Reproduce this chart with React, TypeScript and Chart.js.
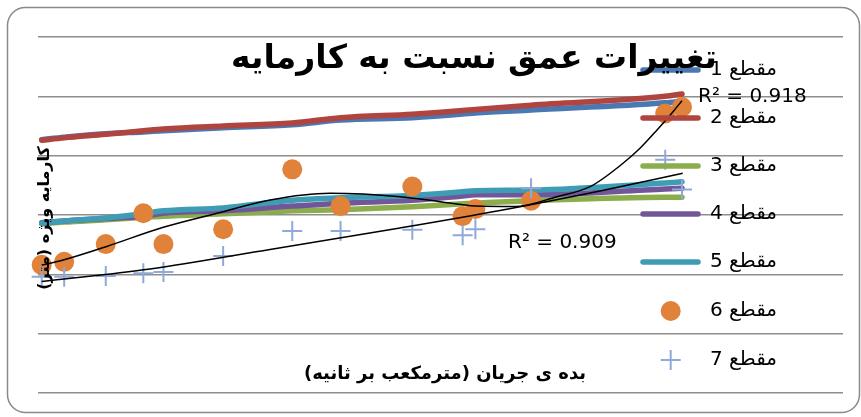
import React, { useEffect, useRef } from "react";
import { Chart, registerables } from "chart.js";

Chart.register(...registerables);

// ---- Texts ----
const titleText = "تغییرات عمق نسبت به کارمایه";
const xAxisTitle = "بده ی جریان (مترمکعب بر ثانیه)";
const yAxisTitle = "کارمایه ویژه (متر)";
const seriesLabels = ["مقطع 1", "مقطع 2", "مقطع 3", "مقطع 4", "مقطع 5", "مقطع 6", "مقطع 7"];
const rSquaredLabels = ["R² = 0.918", "R² = 0.909"];

// ---- Data ----
const discharge = [0.055, 0.39, 1.01, 1.57, 1.87, 2.76, 3.79, 4.51, 5.58, 6.33, 6.52, 7.35, 9.35, 9.6];
const section1 = [4.27, 4.31, 4.37, 4.4, 4.42, 4.47, 4.52, 4.6, 4.64, 4.7, 4.72, 4.77, 4.89, 4.92];
const section2 = [4.26, 4.3, 4.36, 4.42, 4.45, 4.5, 4.55, 4.64, 4.7, 4.76, 4.78, 4.85, 5.0, 5.04];
const section3 = [2.85, 2.88, 2.92, 2.96, 2.98, 3.02, 3.07, 3.09, 3.14, 3.19, 3.2, 3.24, 3.3, 3.3];
const section4 = [2.87, 2.9, 2.94, 2.98, 3.03, 3.07, 3.15, 3.2, 3.25, 3.32, 3.34, 3.34, 3.44, 3.45];
const section5 = [2.86, 2.9, 2.95, 3.02, 3.07, 3.12, 3.25, 3.29, 3.33, 3.39, 3.41, 3.42, 3.54, 3.56];
const section6 = [2.16, 2.21, 2.51, 3.03, 2.51, 2.76, 3.77, 3.15, 3.48, 2.98, 3.1, 3.24, 4.71, 4.82];
const section7 = [1.96, 1.96, 1.97, 2.02, 2.04, 2.31, 2.73, 2.73, 2.75, 2.66, 2.76, 3.45, 3.93, 3.43];

// trendline of مقطع 6 (polynomial)
const trend6X = [0.055, 0.377, 1.014, 1.868, 2.762, 3.459, 4.353, 5.397, 5.993, 6.515, 7.111, 7.737, 8.229, 8.721, 8.974, 9.228, 9.466, 9.6];
const trend6Y = [2.157, 2.242, 2.466, 2.793, 3.056, 3.253, 3.366, 3.309, 3.224, 3.152, 3.144, 3.309, 3.477, 3.872, 4.124, 4.433, 4.741, 4.927];
// trendline of مقطع 7
const trend7X = [0.055, 1.67, 3.459, 5.396, 6.887, 8.378, 9.611];
const trend7Y = [1.879, 2.09, 2.419, 2.781, 3.076, 3.405, 3.703];

const yMin = 0;
const yMax = 6;
const yStep = 1;
const xMin = 0;
const xMax = 12;

const lineColors = ["#4A78B2", "#B0443F", "#8CAD4B", "#71579A", "#3E9CB5"];
const dotColor = "#E0823A";
const plusColor = "#8FA9D9";

const overlayPlugin = {
  id: "overlay",
  afterDraw(chart: any) {
    const ctx = chart.ctx as CanvasRenderingContext2D;
    ctx.save();

    // legend (drawn inside the plot, as in the original)
    const legX1 = 643;
    const legX2 = 698;
    const legMid = 670.7;
    const legTextRight = 777;
    const legY = [70, 118, 166, 214, 262, 311, 360];
    for (let i = 0; i < 5; i++) {
      ctx.beginPath();
      ctx.strokeStyle = lineColors[i];
      ctx.lineWidth = 5.5;
      ctx.lineCap = "round";
      ctx.moveTo(legX1, legY[i]);
      ctx.lineTo(legX2, legY[i]);
      ctx.stroke();
    }
    ctx.beginPath();
    ctx.fillStyle = dotColor;
    ctx.arc(legMid, legY[5], 10, 0, Math.PI * 2);
    ctx.fill();
    ctx.beginPath();
    ctx.strokeStyle = plusColor;
    ctx.lineWidth = 2;
    ctx.lineCap = "butt";
    ctx.moveTo(legMid - 10, legY[6]);
    ctx.lineTo(legMid + 10, legY[6]);
    ctx.moveTo(legMid, legY[6] - 10);
    ctx.lineTo(legMid, legY[6] + 10);
    ctx.stroke();

    ctx.fillStyle = "#000";
    ctx.font = '20px "DejaVu Sans"';
    ctx.textBaseline = "middle";
    (ctx as any).direction = "rtl";
    ctx.textAlign = "right";
    seriesLabels.forEach((lab, i) => ctx.fillText(lab, legTextRight, legY[i]));

    // R² labels
    (ctx as any).direction = "ltr";
    ctx.textAlign = "left";
    ctx.fillText(rSquaredLabels[0], 698, 97);
    ctx.fillText(rSquaredLabels[1], 508, 243);

    // axis titles
    (ctx as any).direction = "rtl";
    ctx.textAlign = "center";
    ctx.font = 'bold 18px "DejaVu Sans"';
    ctx.fillText(xAxisTitle, 445, 374);
    ctx.save();
    ctx.translate(45, 218);
    ctx.rotate(-Math.PI / 2);
    ctx.font = 'bold 16px "DejaVu Sans"';
    ctx.fillText(yAxisTitle, 0, 0);
    ctx.restore();

    // chart title
    ctx.font = 'bold 33px "DejaVu Sans"';
    ctx.fillText(titleText, 474, 59);

    // outer rounded border
    ctx.beginPath();
    ctx.strokeStyle = "#8a8a8a";
    ctx.lineWidth = 1.5;
    (ctx as any).roundRect(7.5, 7.5, 852, 405, 18);
    ctx.stroke();
    ctx.restore();
  },
};

export default function App() {
  const ref = useRef<HTMLCanvasElement | null>(null);
  useEffect(() => {
    if (!ref.current) return;
    const lineSeries = [section1, section2, section3, section4, section5];
    const datasets: any[] = [];
    lineSeries.forEach((vals, i) => {
      datasets.push({
        label: seriesLabels[i],
        data: discharge.map((x, k) => ({ x, y: vals[k] })),
        showLine: true,
        borderColor: lineColors[i],
        backgroundColor: lineColors[i],
        borderWidth: 5.5,
        borderCapStyle: "round",
        cubicInterpolationMode: "monotone",
        pointRadius: 0,
        clip: false,
        order: 10 - i,
      });
    });
    datasets.push({
      label: seriesLabels[5],
      data: discharge.map((x, k) => ({ x, y: section6[k] })),
      showLine: false,
      pointStyle: "circle",
      pointRadius: 10,
      backgroundColor: dotColor,
      borderColor: dotColor,
      borderWidth: 0,
      clip: false,
      order: 4,
    });
    datasets.push({
      label: seriesLabels[6],
      data: discharge.map((x, k) => ({ x, y: section7[k] })),
      showLine: false,
      pointStyle: "cross",
      pointRadius: 10,
      backgroundColor: plusColor,
      borderColor: plusColor,
      borderWidth: 2,
      clip: false,
      order: 3,
    });
    datasets.push({
      label: "trend6",
      data: trend6X.map((x, k) => ({ x, y: trend6Y[k] })),
      showLine: true,
      borderColor: "#000",
      borderWidth: 1.5,
      cubicInterpolationMode: "monotone",
      pointRadius: 0,
      clip: false,
      order: 1,
    });
    datasets.push({
      label: "trend7",
      data: trend7X.map((x, k) => ({ x, y: trend7Y[k] })),
      showLine: true,
      borderColor: "#000",
      borderWidth: 1.5,
      cubicInterpolationMode: "monotone",
      pointRadius: 0,
      clip: false,
      order: 2,
    });

    const chart = new Chart(ref.current, {
      type: "scatter",
      data: { datasets },
      options: {
        responsive: false,
        animation: false,
        layout: { padding: { left: 38, right: 18, top: 37, bottom: 24 } },
        plugins: {
          legend: { display: false },
          title: { display: false },
          tooltip: { enabled: false },
        },
        scales: {
          x: { type: "linear", display: false, min: xMin, max: xMax },
          y: {
            type: "linear",
            min: yMin,
            max: yMax,
            ticks: { display: false, stepSize: yStep },
            grid: { color: "#8e8e8e", lineWidth: 1.5, drawTicks: false },
            border: { display: false },
          },
        },
      },
      plugins: [overlayPlugin],
    } as any);
    return () => chart.destroy();
  }, []);
  return (
    <div style={{ position: "fixed", left: 0, top: 0, width: 861, height: 417, background: "#fff" }}>
      <canvas ref={ref} width={861} height={417} style={{ display: "block" }} />
    </div>
  );
}
